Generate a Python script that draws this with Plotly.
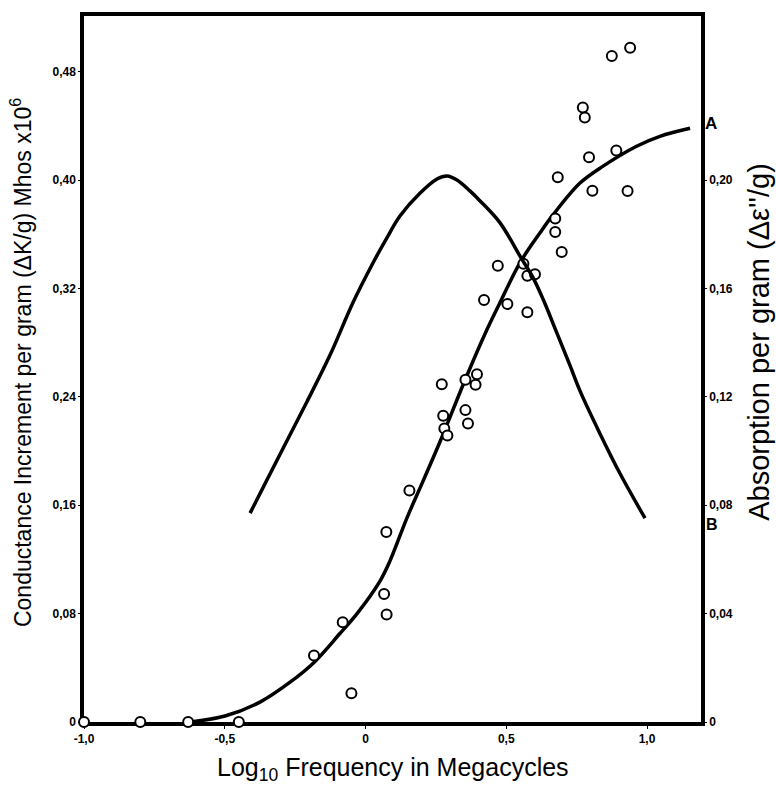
import plotly.graph_objects as go

# Measured data points: log10 frequency (MHz) vs conductance increment per gram
point_x = [-1.0, -0.80, -0.63, -0.45, -0.183, -0.081, -0.05, 0.066, 0.075, 0.074,
           0.156, 0.271, 0.276, 0.280, 0.291, 0.355, 0.355, 0.364, 0.391, 0.396,
           0.421, 0.470, 0.504, 0.561, 0.575, 0.575, 0.602, 0.674, 0.674, 0.683,
           0.697, 0.772, 0.779, 0.794, 0.806, 0.875, 0.891, 0.931, 0.940]
point_y = [0.0, 0.0, 0.0, 0.0, 0.049, 0.0736, 0.0213, 0.0945, 0.0793, 0.1402,
           0.1708, 0.2493, 0.2261, 0.2167, 0.2114, 0.2527, 0.2302, 0.2204, 0.2490, 0.2567,
           0.3114, 0.3367, 0.3085, 0.3383, 0.3293, 0.3024, 0.3305, 0.3716, 0.3616, 0.4020,
           0.3469, 0.4536, 0.4462, 0.4169, 0.3922, 0.4915, 0.4218, 0.3919, 0.4976]

# Curve A: conductance increment (left axis)
curve_a_x = [-0.623, -0.499, -0.375, -0.268, -0.183, -0.091, -0.030, 0.052, 0.087, 0.147,
             0.204, 0.265, 0.361, 0.432, 0.478, 0.549, 0.620, 0.666, 0.762, 0.844,
             0.963, 1.046, 1.153]
curve_a_y = [0.0, 0.0044, 0.0147, 0.0294, 0.0440, 0.0653, 0.0800, 0.1042, 0.1189, 0.1505,
             0.1776, 0.2070, 0.2561, 0.2899, 0.3097, 0.3391, 0.3611, 0.3743, 0.3978, 0.4103,
             0.4250, 0.4323, 0.4382]

# Curve B: absorption per gram (right axis)
curve_b_x = [-0.410, -0.304, -0.208, -0.126, -0.044, 0.027, 0.076, 0.123, 0.194, 0.254,
             0.290, 0.325, 0.371, 0.407, 0.478, 0.552, 0.595, 0.631, 0.680, 0.726,
             0.762, 0.833, 0.904, 0.993]
curve_b_y = [0.0771, 0.0987, 0.1182, 0.1354, 0.1549, 0.1695, 0.1787, 0.1868, 0.1952, 0.2004,
             0.2015, 0.2000, 0.1960, 0.1923, 0.1842, 0.1714, 0.1640, 0.1560, 0.1435, 0.1317,
             0.1222, 0.1064, 0.0917, 0.0752]

x_tick_vals = [-1.0, -0.5, 0.0, 0.5, 1.0]
x_tick_text = ["-1,0", "-0,5", "0", "0,5", "1,0"]
left_tick_vals = [0, 0.08, 0.16, 0.24, 0.32, 0.40, 0.48]
left_tick_text = ["0", "0,08", "0,16", "0,24", "0,32", "0,40", "0,48"]
right_tick_vals = [0, 0.04, 0.08, 0.12, 0.16, 0.20]
right_tick_text = ["0", "0,04", "0,08", "0,12", "0,16", "0,20"]

FONT = "Liberation Sans, Arial, sans-serif"
YMAX = 0.5211
TICKFONT = dict(size=12, family=FONT, weight=700)

fig = go.Figure()
fig.add_trace(go.Scatter(x=curve_a_x, y=curve_a_y, mode="lines",
                         line=dict(color="black", width=3.5, shape="spline", smoothing=1.0),
                         hoverinfo="skip"))
fig.add_trace(go.Scatter(x=curve_b_x, y=curve_b_y, mode="lines", yaxis="y2",
                         line=dict(color="black", width=3.5, shape="spline", smoothing=1.0),
                         hoverinfo="skip"))
fig.add_trace(go.Scatter(x=point_x, y=point_y, mode="markers", cliponaxis=False,
                         marker=dict(symbol="circle", size=10, color="white",
                                     line=dict(color="black", width=2))))

fig.update_layout(
    width=776, height=789,
    margin=dict(l=84, r=75, t=12, b=67),
    paper_bgcolor="white", plot_bgcolor="white",
    showlegend=False,
    font=dict(family=FONT, color="black"),
    xaxis=dict(range=[-1.0, 1.1918], tickvals=x_tick_vals, ticktext=x_tick_text,
               showline=True, linecolor="black", linewidth=3.5, mirror=True,
               showgrid=False, zeroline=False, ticks="outside", ticklen=3,
               tickcolor="black", tickfont=TICKFONT, layer="below traces"),
    yaxis=dict(range=[0, YMAX], tickvals=left_tick_vals, ticktext=left_tick_text,
               showline=True, linecolor="black", linewidth=3.5, mirror=True,
               showgrid=False, zeroline=False, ticks="outside", ticklen=2,
               tickcolor="black", tickfont=TICKFONT, layer="below traces"),
    yaxis2=dict(range=[0, YMAX / 2], tickvals=right_tick_vals, ticktext=right_tick_text,
                overlaying="y", side="right", showline=True, linecolor="black", linewidth=3.5,
                showgrid=False, zeroline=False, ticks="outside", ticklen=2,
                tickcolor="black", tickfont=TICKFONT, layer="below traces"),
)

fig.add_annotation(text="Log<sub>10</sub> Frequency in Megacycles", xref="paper", yref="paper",
                   x=0.5, xanchor="center", y=-0.067, yanchor="middle", showarrow=False,
                   font=dict(size=25, family=FONT))
fig.add_annotation(text="Conductance Increment per gram (ΔK/g) Mhos x10<sup>6</sup>",
                   xref="paper", yref="paper", x=-0.102, xanchor="center",
                   y=0.5085, yanchor="middle", textangle=-90, showarrow=False,
                   font=dict(size=23, family=FONT))
fig.add_annotation(text="Absorption per gram (Δε''/g)",
                   xref="paper", yref="paper", x=1.095, xanchor="center",
                   y=0.538, yanchor="middle", textangle=-90, showarrow=False,
                   font=dict(size=29, family=FONT))
fig.add_annotation(text="A", xref="paper", yref="paper", x=1.017, y=0.848,
                   xanchor="center", yanchor="middle", showarrow=False,
                   font=dict(size=17, family=FONT, weight=700))
fig.add_annotation(text="B", xref="paper", yref="paper", x=1.018, y=0.280,
                   xanchor="center", yanchor="middle", showarrow=False,
                   font=dict(size=16, family=FONT, weight=700))

fig.write_html("out.html", config={"displayModeBar": False},
               post_script="document.body.style.margin='0';document.body.style.overflow='hidden';")
